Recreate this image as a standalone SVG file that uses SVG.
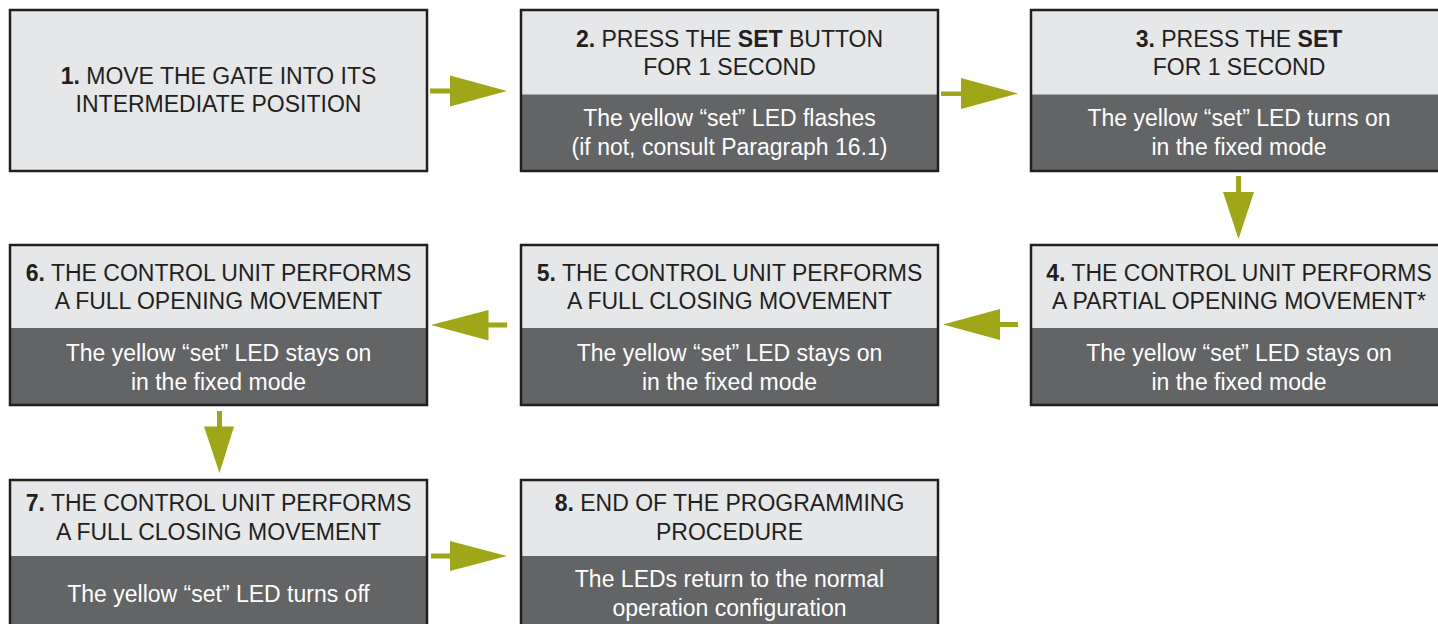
<svg xmlns="http://www.w3.org/2000/svg" width="1438" height="624" viewBox="0 0 1438 624">
<style>
.hd{fill:#e6e7e8}
.bd{fill:#636466}
.frame{fill:none;stroke:#231f20;stroke-width:2.5}
text{font-family:"Liberation Sans",Arial,sans-serif;font-size:23px;text-anchor:middle}
.dk{fill:#231f20}
.wt{fill:#ffffff}
.b{font-weight:bold}
.arrow{fill:#9fa617}
</style>
<rect width="1438" height="624" fill="#ffffff"/>
<g id="node1">
<rect class="hd" x="10" y="10" width="417" height="161"/>
<rect class="frame" x="10" y="10" width="417" height="161"/>
<text class="dk" x="218.5" y="84"><tspan class="b">1.</tspan> MOVE THE GATE INTO ITS</text>
<text class="dk" x="218.5" y="112">INTERMEDIATE POSITION</text>
</g>
<g id="node2">
<rect class="hd" x="521" y="10" width="417" height="84.5"/>
<rect class="bd" x="521" y="94.5" width="417" height="76.5"/>
<rect class="frame" x="521" y="10" width="417" height="161"/>
<text class="dk" x="729.5" y="47"><tspan class="b">2.</tspan> PRESS THE <tspan class="b">SET</tspan> BUTTON</text>
<text class="dk" x="729.5" y="75">FOR 1 SECOND</text>
<text class="wt" x="729.5" y="126">The yellow “set” LED flashes</text>
<text class="wt" x="729.5" y="155">(if not, consult Paragraph 16.1)</text>
</g>
<g id="node3">
<rect class="hd" x="1031" y="10" width="418" height="84.5"/>
<rect class="bd" x="1031" y="94.5" width="418" height="76.5"/>
<rect class="frame" x="1031" y="10" width="418" height="161"/>
<text class="dk" x="1239" y="47"><tspan class="b">3.</tspan> PRESS THE <tspan class="b">SET</tspan></text>
<text class="dk" x="1239" y="75">FOR 1 SECOND</text>
<text class="wt" x="1239" y="126">The yellow “set” LED turns on</text>
<text class="wt" x="1239" y="155">in the fixed mode</text>
</g>
<g id="node4">
<rect class="hd" x="1031" y="245" width="418" height="83"/>
<rect class="bd" x="1031" y="328" width="418" height="77"/>
<rect class="frame" x="1031" y="245" width="418" height="160"/>
<text class="dk" x="1239" y="281"><tspan class="b">4.</tspan> THE CONTROL UNIT PERFORMS</text>
<text class="dk" x="1239" y="309">A PARTIAL OPENING MOVEMENT*</text>
<text class="wt" x="1239" y="361">The yellow “set” LED stays on</text>
<text class="wt" x="1239" y="390">in the fixed mode</text>
</g>
<g id="node5">
<rect class="hd" x="521" y="245" width="417" height="83"/>
<rect class="bd" x="521" y="328" width="417" height="77"/>
<rect class="frame" x="521" y="245" width="417" height="160"/>
<text class="dk" x="729.5" y="281"><tspan class="b">5.</tspan> THE CONTROL UNIT PERFORMS</text>
<text class="dk" x="729.5" y="309">A FULL CLOSING MOVEMENT</text>
<text class="wt" x="729.5" y="361">The yellow “set” LED stays on</text>
<text class="wt" x="729.5" y="390">in the fixed mode</text>
</g>
<g id="node6">
<rect class="hd" x="10" y="245" width="417" height="83"/>
<rect class="bd" x="10" y="328" width="417" height="77"/>
<rect class="frame" x="10" y="245" width="417" height="160"/>
<text class="dk" x="218.5" y="281"><tspan class="b">6.</tspan> THE CONTROL UNIT PERFORMS</text>
<text class="dk" x="218.5" y="309">A FULL OPENING MOVEMENT</text>
<text class="wt" x="218.5" y="361">The yellow “set” LED stays on</text>
<text class="wt" x="218.5" y="390">in the fixed mode</text>
</g>
<g id="node7">
<rect class="hd" x="10" y="480" width="417" height="76"/>
<rect class="bd" x="10" y="556" width="417" height="80"/>
<rect class="frame" x="10" y="480" width="417" height="156"/>
<text class="dk" x="218.5" y="511"><tspan class="b">7.</tspan> THE CONTROL UNIT PERFORMS</text>
<text class="dk" x="218.5" y="540">A FULL CLOSING MOVEMENT</text>
<text class="wt" x="218.5" y="602">The yellow “set” LED turns off</text>
</g>
<g id="node8">
<rect class="hd" x="521" y="480" width="417" height="76"/>
<rect class="bd" x="521" y="556" width="417" height="80"/>
<rect class="frame" x="521" y="480" width="417" height="156"/>
<text class="dk" x="729.5" y="511"><tspan class="b">8.</tspan> END OF THE PROGRAMMING</text>
<text class="dk" x="729.5" y="540">PROCEDURE</text>
<text class="wt" x="729.5" y="587">The LEDs return to the normal</text>
<text class="wt" x="729.5" y="616">operation configuration</text>
</g>
<g id="connectors">
<path class="arrow" d="M430,88.5 H450 V75.5 L507,91 L450,106.5 V93.5 H430 Z"/>
<path class="arrow" d="M941,91.5 H961 V78 L1018,93.5 L961,109 V96 H941 Z"/>
<path class="arrow" d="M1236,176 H1241 V192 H1254 L1238.5,239 L1223,192 H1236 Z"/>
<path class="arrow" d="M1018,322 H1000 V309 L943,324.5 L1000,340 V327 H1018 Z"/>
<path class="arrow" d="M507,322.5 H488.5 V310 L431,325 L488.5,340.5 V327.5 H507 Z"/>
<path class="arrow" d="M217,411 H222 V426.5 H234 L219.5,473 L204,426.5 H217 Z"/>
<path class="arrow" d="M431,553.5 H450 V541 L507,556 L450,571 V558.5 H431 Z"/>
</g>
</svg>
